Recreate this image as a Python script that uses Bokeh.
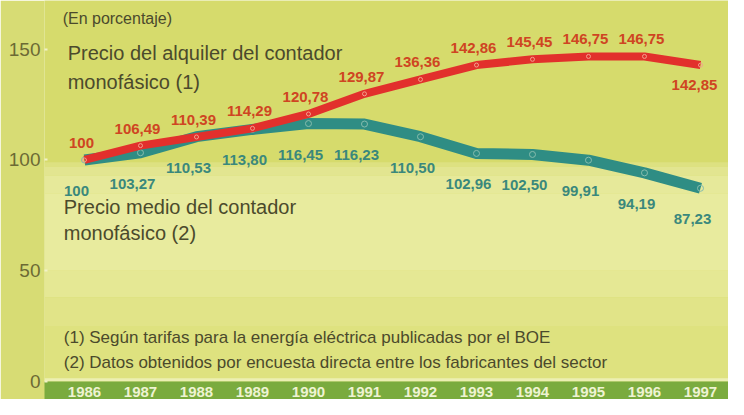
from bokeh.plotting import figure
from bokeh.models import ColumnDataSource, Label, FixedTicker, BoxAnnotation, Range1d
from bokeh.core.properties import value
from bokeh.embed import file_html
from bokeh.resources import INLINE

years = [1986, 1987, 1988, 1989, 1990, 1991, 1992, 1993, 1994, 1995, 1996, 1997]
alquiler = [100, 106.49, 110.39, 114.29, 120.78, 129.87, 136.36, 142.86, 145.45, 146.75, 146.75, 142.85]
medio = [100, 103.27, 110.53, 113.80, 116.45, 116.23, 110.50, 102.96, 102.50, 99.91, 94.19, 87.23]
y_ticks = [0, 50, 100, 150]


def fmt(v):
    if float(v).is_integer():
        return str(int(v))
    return f"{v:.2f}".replace(".", ",")


FONT = "Liberation Sans"
BG = "#d6db6c"

src_a = ColumnDataSource(dict(x=years, y=alquiler))
src_m = ColumnDataSource(dict(x=years, y=medio, t=[fmt(v) for v in medio]))
src_a_main = ColumnDataSource(dict(x=years[:-1], y=alquiler[:-1], t=[fmt(v) for v in alquiler[:-1]]))
src_a_last = ColumnDataSource(dict(x=years[-1:], y=alquiler[-1:], t=[fmt(v) for v in alquiler[-1:]]))

p = figure(width=728, height=399, output_backend="svg", toolbar_location=None,
           x_range=Range1d(1985.286, 1997.5), y_range=Range1d(0, 172),
           min_border_left=44, min_border_right=0, min_border_top=0, min_border_bottom=0)
p.background_fill_color = BG
p.border_fill_color = "#d7dc74"
p.outline_line_color = None
p.grid.visible = False

# soft background shading (style only)
shade = [
    (97, 99, "#dde181"), (93, 97, "#e2e590"), (85, 93, "#e6e99a"), (50, 85, "#e8eb9e"),
    (38, 50, "#e5e894"), (25, 38, "#e1e488"), (0, 25, "#dee27f"),
]
for b, t, c in shade:
    p.add_layout(BoxAnnotation(bottom=b, top=t, fill_color=c, fill_alpha=1, line_color=None, level="underlay"))
p.add_layout(BoxAnnotation(bottom=0, top=1.5, fill_color="#ecefb2", fill_alpha=1, line_color=None, level="underlay"))

# lines
p.line("x", "y", source=src_m, line_color="#2f8d84", line_width=11, line_join="round")
p.scatter("x", "y", source=src_m, size=6, fill_color=None, line_color="#86bcae", line_width=1)
p.line("x", "y", source=src_a, line_color="#e2302c", line_width=8, line_join="round")
p.scatter("x", "y", source=src_a, size=4, fill_color=None, line_color="#f3a08e", line_width=1)

# value labels
common = dict(text_font=value(FONT), text_font_style="bold", text_font_size="15px",
              text_align="center", text_baseline="middle")
p.text("x", "y", text="t", source=src_a_main, text_color="#cf4522", y_offset=-17, x_offset=-3, **common)
p.text("x", "y", text="t", source=src_a_last, text_color="#cf4522", y_offset=20, x_offset=-6, **common)
p.text("x", "y", text="t", source=src_m, text_color="#3a887c", y_offset=31, x_offset=-8, **common)


def lab(x, y, text, size="16px", color="#4b4a2c"):
    p.add_layout(Label(x=x, y=y, text=text, text_font=FONT, text_font_size=size,
                       text_color=color, text_baseline="middle", text_align="left"))


lab(1985.61, 163.8, "(En porcentaje)", size="16px")
lab(1985.70, 148.2, "Precio del alquiler del contador", size="20px")
lab(1985.70, 135.3, "monofásico (1)", size="20px")
lab(1985.63, 79.0, "Precio medio del contador", size="20px")
lab(1985.63, 67.0, "monofásico (2)", size="20px")
lab(1985.63, 19.7, "(1) Según tarifas para la energía eléctrica publicadas por el BOE", size="17px")
lab(1985.63, 8.7, "(2) Datos obtenidos por encuesta directa entre los fabricantes del sector", size="17px")

# axes
p.yaxis.ticker = FixedTicker(ticks=y_ticks)
p.yaxis.minor_tick_line_color = None
p.yaxis.axis_line_color = None
p.yaxis.major_tick_in = 3
p.yaxis.major_tick_out = 0
p.yaxis.major_tick_line_color = "#f2f2c8"
p.yaxis.major_tick_line_width = 2
p.yaxis.major_label_text_font = FONT
p.yaxis.major_label_text_font_size = "19px"
p.yaxis.major_label_text_color = "#6c6a34"
p.yaxis.major_label_standoff = 4

p.xaxis.ticker = FixedTicker(ticks=years)
p.xaxis.minor_tick_line_color = None
p.xaxis.axis_line_color = None
p.xaxis.major_tick_line_color = None
p.xaxis.major_tick_in = 0
p.xaxis.major_tick_out = 0
p.xaxis.major_label_text_font = FONT
p.xaxis.major_label_text_font_style = "bold"
p.xaxis.major_label_text_font_size = "15px"
p.xaxis.major_label_text_color = "#eef3d2"
p.xaxis.major_label_standoff = 5
p.xaxis.background_fill_color = "#7aab3e"

open("out.html", "w").write(file_html(p, INLINE))
